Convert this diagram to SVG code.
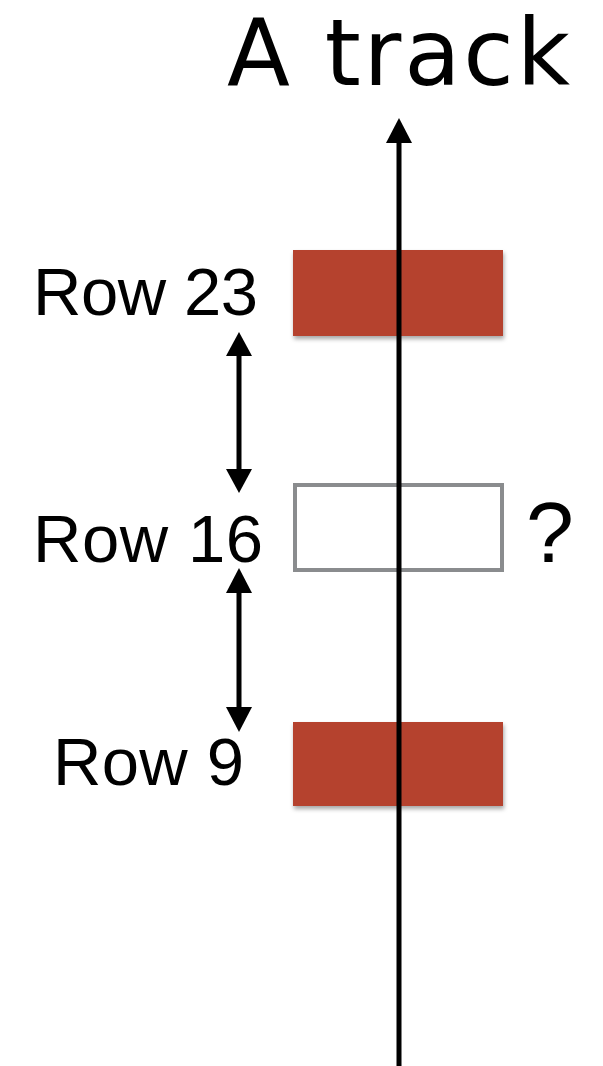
<svg xmlns="http://www.w3.org/2000/svg" width="603" height="1066" viewBox="0 0 603 1066">
  <defs>
    <style>
      text { font-family: "Liberation Sans", Arial, sans-serif; fill: #000; }
      .lbl { font-size: 67px; }
      .red { fill: #b5432f; }
      .arrow { stroke: #000; stroke-width: 5; fill: none; }
      .head { fill: #000; }
    </style>
    <filter id="sh" x="-10%" y="-10%" width="120%" height="130%">
      <feDropShadow dx="1" dy="3" stdDeviation="2" flood-color="#000" flood-opacity="0.35"/>
    </filter>
  </defs>
  <g id="title">
    <text x="227" y="85" font-size="92" style="font-family:'DejaVu Sans', sans-serif" textLength="343" lengthAdjust="spacing">A track</text>
  </g>
  <g id="row23">
    <text class="lbl" x="33" y="315" textLength="225" lengthAdjust="spacing">Row 23</text>
    <rect class="red" x="293" y="250" width="210" height="86" filter="url(#sh)"/>
  </g>
  <g id="row16">
    <text class="lbl" x="33" y="562" textLength="230" lengthAdjust="spacing">Row 16</text>
    <rect x="295" y="485" width="207" height="85" fill="#fff" stroke="#8a8c8e" stroke-width="4"/>
  </g>
  <g id="question">
    <text x="526" y="562" font-size="86">?</text>
  </g>
  <g id="row9">
    <text class="lbl" x="53" y="785" textLength="191" lengthAdjust="spacing">Row 9</text>
    <rect class="red" x="293" y="722" width="210" height="84" filter="url(#sh)"/>
  </g>
  <g id="connectors">
    <line class="arrow" x1="399" y1="1066" x2="399" y2="138"/>
    <polygon class="head" points="399,118 386,143 412,143"/>
    <line class="arrow" x1="239" y1="350" x2="239" y2="476"/>
    <polygon class="head" points="239,332 226,356 252,356"/>
    <polygon class="head" points="239,493 226,469 252,469"/>
    <line class="arrow" x1="239" y1="585" x2="239" y2="714"/>
    <polygon class="head" points="239,568 226,593 252,593"/>
    <polygon class="head" points="239,732 226,707 252,707"/>
  </g>
</svg>
